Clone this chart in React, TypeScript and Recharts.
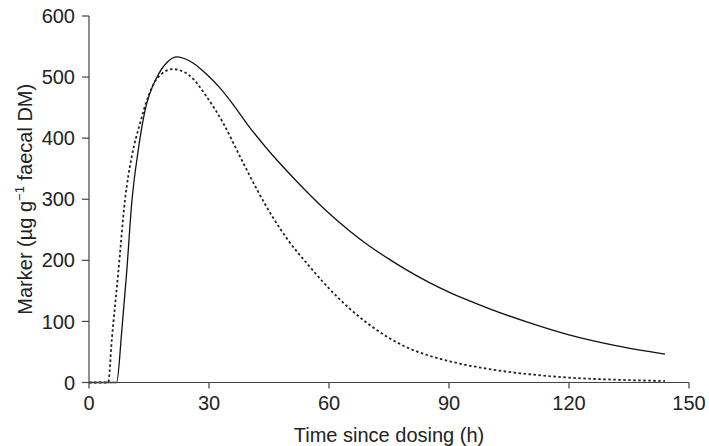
import React from 'react';
import { LineChart, Line, XAxis, YAxis } from 'recharts';

// solid curve
const solidTime = [0, 6.9, 8.2, 9.4, 10.7, 12.3, 14, 17, 19.5, 22, 24, 26, 28, 30, 32.5, 35.25, 40.25, 45.25, 50.25, 55.25, 60, 65, 70, 75, 80, 85, 90, 95, 100, 110, 120, 132, 144];
const solidMarker = [0, 0, 85, 179, 295, 380, 445, 500, 524, 533, 530, 523, 513, 501, 484, 462, 417, 377, 341, 307, 277, 249, 224, 202, 182, 164, 148, 134, 121, 98, 78, 60, 46.5];

// dotted curve
const dottedTime = [0, 4.8, 5.7, 7.3, 9, 10.7, 12.75, 14.8, 17.3, 21, 25.25, 29.4, 33.6, 37.75, 41.9, 46, 50, 55, 60, 65, 70, 75, 80, 85, 90, 100, 110, 120, 132, 144];
const dottedMarker = [0, 0, 70, 179, 299, 370, 424, 468, 500, 513, 502, 468, 424, 370, 317, 270, 231, 191, 154, 122, 95, 73, 56, 44, 35, 22, 13.5, 8, 4.5, 2.5];

const xTicks = [0, 30, 60, 90, 120, 150];
const yTicks = [0, 100, 200, 300, 400, 500, 600];

const solidData = solidTime.map((t, i) => ({ time: t, marker: solidMarker[i] }));
const dottedData = dottedTime.map((t, i) => ({ time: t, marker: dottedMarker[i] }));

const FONT = '"Liberation Sans", Arial, Helvetica, sans-serif';
const AXIS = '#444';
const INK = '#222';

const YLabel = (props: any) => {
  const vb = props.viewBox || {};
  const cx = 31.5;
  const cy = vb.y + vb.height / 2;
  return (
    <text
      x={cx}
      y={cy}
      transform={`rotate(-90, ${cx}, ${cy})`}
      textAnchor="middle"
      fill={INK}
      fontSize={20}
      fontFamily={FONT}
    >
      Marker (µg g
      <tspan dy={-8} fontSize={13}>−1</tspan>
      <tspan dy={8}> faecal DM)</tspan>
    </text>
  );
};

export default function App() {
  return (
    <div style={{ position: 'absolute', left: 0, top: 0, width: 709, height: 446, background: '#fff' }}>
      <LineChart
        width={709}
        height={446}
        margin={{ top: 16, right: 20, left: 0, bottom: 0 }}
      >
        <XAxis
          dataKey="time"
          type="number"
          domain={[0, 150]}
          ticks={xTicks}
          allowDuplicatedCategory={false}
          height={63.5}
          stroke={AXIS}
          strokeWidth={1.2}
          tickSize={6}
          tickMargin={7}
          tick={{ fill: INK, fontSize: 20, fontFamily: FONT }}
          label={{
            value: 'Time since dosing (h)',
            position: 'insideBottom',
            offset: 4,
            fill: INK,
            fontSize: 20,
            fontFamily: FONT,
          }}
        />
        <YAxis
          type="number"
          domain={[0, 600]}
          ticks={yTicks}
          width={89}
          stroke={AXIS}
          strokeWidth={1.2}
          tickSize={7}
          tickMargin={7}
          tick={{ fill: INK, fontSize: 20, fontFamily: FONT }}
          label={<YLabel />}
        />
        <Line
          data={solidData}
          dataKey="marker"
          type="monotone"
          stroke="#111"
          strokeWidth={1.3}
          dot={false}
          isAnimationActive={false}
        />
        <Line
          data={dottedData}
          dataKey="marker"
          type="monotone"
          stroke="#222"
          strokeWidth={1.8}
          strokeDasharray="2.5 2.5"
          dot={false}
          isAnimationActive={false}
        />
      </LineChart>
    </div>
  );
}
